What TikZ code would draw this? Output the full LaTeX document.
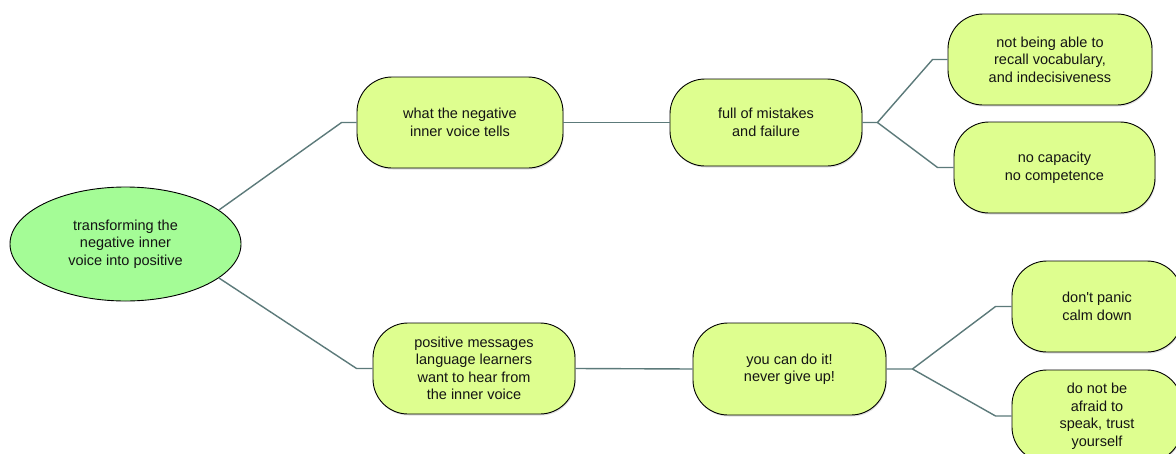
\documentclass[tikz,border=0pt]{standalone}
\usepackage{fontspec}
\setmainfont{Liberation Sans}
\usetikzlibrary{shapes.geometric,shadows}
\definecolor{leaffill}{RGB}{222,254,143}
\definecolor{rootfill}{RGB}{164,252,150}
\definecolor{linkcol}{RGB}{92,122,122}
\tikzset{
  txt/.style={font=\fontsize{14.5}{17.5}\selectfont, align=center, text=black!92},
  box/.style={txt, draw=black, line width=0.9pt, fill=leaffill, rounded corners=35pt,
    inner sep=0pt, drop shadow={opacity=0.25, shadow xshift=0.8pt, shadow yshift=-1.5pt}},
  rootnode/.style={txt, ellipse, draw=black, line width=0.9pt, fill=rootfill, inner sep=0pt,
    minimum width=231pt, minimum height=114pt},
  link/.style={draw=linkcol, line width=1.4pt}
}
\begin{document}
\begin{tikzpicture}[x=1pt,y=-1pt]
\useasboundingbox[fill=white] (0,0) rectangle (1176,453);

\node[rootnode] (root) at (125.5,244) {transforming the\\negative inner\\voice into positive};

\node[box, minimum width=206pt, minimum height=91pt] (n1) at (460,122.5) {what the negative\\inner voice tells};
\node[box, minimum width=192pt, minimum height=87pt] (n2) at (766,122.5) {full of mistakes\\and failure};
\node[box, minimum width=204pt, minimum height=91pt] (n3) at (1050,59.5) {not being able to\\recall vocabulary,\\and indecisiveness};
\node[box, minimum width=201pt, minimum height=91pt] (n4) at (1054.5,167.5) {no capacity\\no competence};

\node[box, minimum width=202pt, minimum height=91pt] (n5) at (474,368.5) {positive messages\\language learners\\want to hear from\\the inner voice};
\node[box, minimum width=193pt, minimum height=92pt] (n6) at (789.5,369) {you can do it!\\never give up!};
\node[box, minimum width=170pt, minimum height=91pt] (n7) at (1097,306.5) {don\textquotesingle t panic\\calm down};
\node[box, minimum width=170pt, minimum height=92pt] (n8) at (1097,416) {do not be\\afraid to\\speak, trust\\yourself};

% upper branch
\draw[link] (root.20) -- ([xshift=-15pt]n1.west) -- (n1.west);
\draw[link] (n1.east) -- (n2.west);
\draw[link] (n2.east) -- ++(15,0) coordinate (j1) -- ([xshift=-15pt]n3.west) -- (n3.west);
\draw[link] (j1) -- ([xshift=-16pt]n4.west) -- (n4.west);

% lower branch
\draw[link] (root.-20) -- ([xshift=-16pt]n5.west) -- (n5.west);
\draw[link] (n5.east) -- (n6.west);
\draw[link] (n6.east) -- ++(26,0) coordinate (j2) -- ([xshift=-16pt]n7.west) -- (n7.west);
\draw[link] (j2) -- ([xshift=-16pt]n8.west) -- (n8.west);
\end{tikzpicture}
\end{document}
